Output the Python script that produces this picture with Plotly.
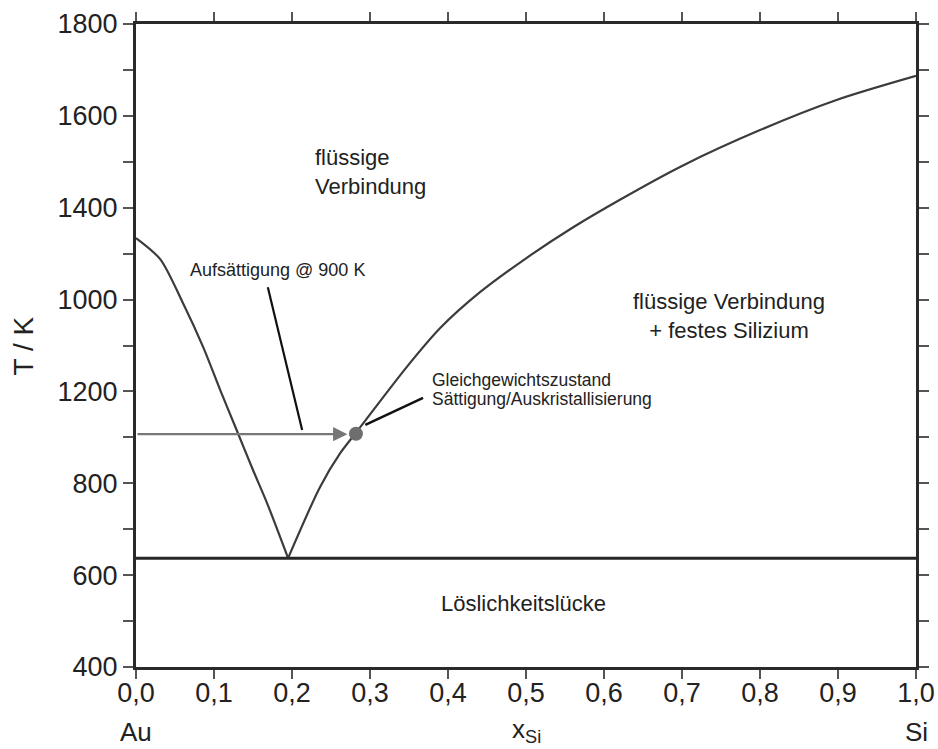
import plotly.graph_objects as go

# Liquidus, Au-rich branch (x_Si, T/K)
left_x = [0.0, 0.031, 0.060, 0.086, 0.108, 0.129, 0.150, 0.168, 0.195]
left_T = [1334, 1288, 1193, 1097, 1003, 916, 829, 757, 637]
# Liquidus, Si-rich branch
right_x = [0.195, 0.236, 0.262, 0.282, 0.347, 0.390, 0.441, 0.501, 0.560, 0.621, 0.700, 0.800, 0.899, 1.0]
right_T = [637, 792, 866, 910, 1053, 1138, 1216, 1291, 1357, 1418, 1491, 1569, 1635, 1687]
# Eutectic line
eut_x = [0.0, 1.0]
eut_T = [637, 637]
# Saturation path at ~900 K
arrow_start = (0.0, 907)
arrow_end = (0.271, 907)
eq_point_x = [0.282]
eq_point_T = [908]
# Leader lines
leader1_x = [0.169, 0.213]
leader1_T = [1227, 916]
leader2_x = [0.294, 0.368]
leader2_T = [927, 986]

x_ticks = [i / 10 for i in range(11)]
x_ticktext = ["0,0", "0,1", "0,2", "0,3", "0,4", "0,5", "0,6", "0,7", "0,8", "0,9", "1,0"]
y_ticks = list(range(400, 1801, 100))
y_ticktext = ["400", "", "600", "", "800", "", "1200", "", "1000", "", "1400", "", "1600", "", "1800"]

FONT = "Liberation Sans, Arial, sans-serif"
TXT = "#222222"

fig = go.Figure()
fig.add_trace(go.Scatter(x=left_x, y=left_T, mode="lines",
                         line=dict(color="#3c3c3c", width=2.2, shape="spline", smoothing=0.8),
                         hoverinfo="skip"))
fig.add_trace(go.Scatter(x=right_x, y=right_T, mode="lines",
                         line=dict(color="#3c3c3c", width=2.2, shape="spline", smoothing=0.8),
                         hoverinfo="skip"))
fig.add_trace(go.Scatter(x=eut_x, y=eut_T, mode="lines",
                         line=dict(color="#262626", width=3), hoverinfo="skip"))
fig.add_trace(go.Scatter(x=leader1_x, y=leader1_T, mode="lines",
                         line=dict(color="#111111", width=2.2), hoverinfo="skip"))
fig.add_trace(go.Scatter(x=leader2_x, y=leader2_T, mode="lines",
                         line=dict(color="#111111", width=2.5), hoverinfo="skip"))
fig.add_trace(go.Scatter(x=eq_point_x, y=eq_point_T, mode="markers",
                         marker=dict(color="#6e6e6e", size=14), hoverinfo="skip"))

annotations = [
    dict(x=arrow_end[0], y=arrow_end[1], ax=arrow_start[0], ay=arrow_start[1],
         xref="x", yref="y", axref="x", ayref="y", text="", showarrow=True,
         arrowhead=2, arrowsize=1.3, arrowwidth=2.2, arrowcolor="#777777", standoff=0),
    dict(x=0.227, y=1478, xref="x", yref="y", text="flüssige<br>Verbindung",
         showarrow=False, xanchor="left", align="left", font=dict(size=22, color=TXT, family=FONT)),
    dict(x=0.760, y=1164, xref="x", yref="y", text="flüssige Verbindung<br>+ festes Silizium",
         showarrow=False, xanchor="center", align="center", font=dict(size=22, color=TXT, family=FONT)),
    dict(x=0.497, y=539, xref="x", yref="y", text="Löslichkeitslücke",
         showarrow=False, xanchor="center", font=dict(size=22, color=TXT, family=FONT)),
    dict(x=0.067, y=1264, xref="x", yref="y", text="Aufsättigung @ 900 K",
         showarrow=False, xanchor="left", font=dict(size=18, color=TXT, family=FONT)),
    dict(x=0.377, y=1025, xref="x", yref="y", text="Gleichgewichtszustand",
         showarrow=False, xanchor="left", font=dict(size=17.5, color=TXT, family=FONT)),
    dict(x=0.377, y=983, xref="x", yref="y", text="Sättigung/Auskristallisierung",
         showarrow=False, xanchor="left", font=dict(size=17.5, color=TXT, family=FONT)),
    dict(x=0.0, y=0, xref="x", yref="paper", yshift=-65, text="Au",
         showarrow=False, xanchor="center", yanchor="middle", font=dict(size=26, color=TXT, family=FONT)),
    dict(x=1.0, y=0, xref="x", yref="paper", yshift=-65, text="Si",
         showarrow=False, xanchor="center", yanchor="middle", font=dict(size=26, color=TXT, family=FONT)),
    dict(x=0.5, y=0, xref="x", yref="paper", yshift=-63, text="x<sub>Si</sub>",
         showarrow=False, xanchor="center", yanchor="middle", font=dict(size=26, color=TXT, family=FONT)),
    dict(x=-0.1436, y=0.5, xref="paper", yref="paper", text="T / K", textangle=-90,
         showarrow=False, xanchor="center", yanchor="middle", font=dict(size=28, color=TXT, family=FONT)),
]

fig.update_layout(
    width=938, height=749,
    margin=dict(l=136, r=22, t=24, b=82, autoexpand=False),
    paper_bgcolor="white", plot_bgcolor="white",
    showlegend=False,
    annotations=annotations,
    font=dict(family=FONT, color=TXT),
)
fig.update_xaxes(range=[0, 1], tickvals=x_ticks, ticktext=x_ticktext, automargin=False,
                 showgrid=False, zeroline=False, showline=True, mirror="allticks",
                 linecolor="#2a2a2a", linewidth=3, ticks="outside", ticklen=9,
                 tickwidth=2, tickcolor="#555555", ticklabelstandoff=-9,
                 tickfont=dict(size=27, color=TXT, family=FONT))
fig.update_yaxes(range=[400, 1800], tickvals=y_ticks, ticktext=y_ticktext, automargin=False,
                 showgrid=False, zeroline=False, showline=True, mirror="allticks",
                 linecolor="#2a2a2a", linewidth=3, ticks="outside", ticklen=10,
                 tickwidth=2, tickcolor="#555555",
                 tickfont=dict(size=27, color=TXT, family=FONT))

fig.write_html(
    "out.html",
    config={"displayModeBar": False},
    post_script="document.body.style.margin='0';document.body.style.padding='0';document.body.style.overflow='hidden';",
)
